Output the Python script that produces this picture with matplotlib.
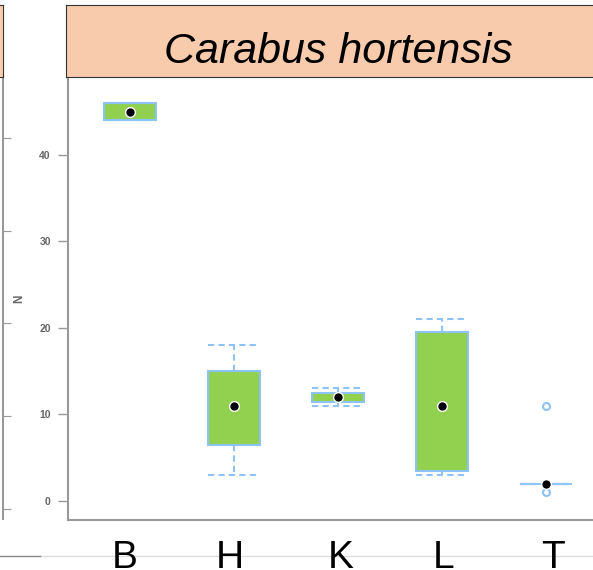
import matplotlib.pyplot as plt

plt.rcParams["font.family"] = ["Liberation Sans", "DejaVu Sans"]

sites = ["B", "H", "K", "L", "T"]
whis_lo = [44, 3, 11, 3, 2]
q1 = [44, 6.5, 11.4, 3.5, 2]
medians = [45, 11, 12, 11, 2]
q3 = [46, 15, 12.5, 19.5, 2]
whis_hi = [46, 18, 13, 21, 2]
outliers = [[], [], [], [], [11, 1]]
yticks = [0, 10, 20, 30, 40]

W, H = 593, 570
fig = plt.figure(figsize=(W / 100, H / 100), dpi=100)

box_blue = "#8ec3f5"
green = "#92d050"
grey = "#999999"


def fx(px):
    return px / W


def fy(py):
    return 1 - py / H


# partial neighbour panel on the far left
left = fig.add_axes([fx(-60), fy(519), fx(63), fy(77) - fy(519)])
left.set_xlim(0, 1)
left.set_ylim(-1.1, 46.6)
for s in ["left", "top", "bottom"]:
    left.spines[s].set_visible(False)
left.spines["right"].set_color(grey)
left.spines["right"].set_linewidth(1.5)
left.set_xticks([])
left.yaxis.tick_right()
left.set_yticks(yticks)
left.set_yticklabels([])
left.tick_params(axis="y", colors=grey, length=6, direction="out")
lstrip = fig.add_axes([fx(-60), fy(77), fx(63), fy(5) - fy(77)])
lstrip.set_facecolor("#f8cbad")
lstrip.set_xticks([])
lstrip.set_yticks([])
for s in lstrip.spines.values():
    s.set_color("#333333")

# main panel
ax = fig.add_axes([fx(67.5), fy(520), 1 - fx(67.5), fy(77) - fy(520)])
stats = []
for i, name in enumerate(sites):
    stats.append(dict(label=name, whislo=whis_lo[i], q1=q1[i], med=medians[i],
                      q3=q3[i], whishi=whis_hi[i], fliers=outliers[i]))

ax.bxp(stats, positions=range(1, 6), widths=0.5, capwidths=0.5,
       patch_artist=True, showfliers=True,
       boxprops=dict(facecolor=green, edgecolor=box_blue, linewidth=1.5),
       whiskerprops=dict(color=box_blue, linestyle=(0, (3, 2)), linewidth=1.5),
       capprops=dict(color=box_blue, linestyle=(0, (3, 2)), linewidth=1.5),
       medianprops=dict(linewidth=0),
       flierprops=dict(marker="o", markerfacecolor="none",
                       markeredgecolor=box_blue, markersize=5, markeredgewidth=1.5))
ax.plot(range(1, 6), medians, "o", color="black", markeredgecolor="white",
        markeredgewidth=1, markersize=7, zorder=5)

ax.set_xlim(1 - 62.5 / 104, 5 + 47 / 104)
ax.set_ylim(-2.2, 49)
ax.set_yticks(yticks)
ax.set_yticklabels([str(t) for t in yticks])
ax.tick_params(axis="y", colors=grey, labelcolor="#666666", labelsize=7.5,
               length=7, width=1, pad=5)
for lab in ax.get_yticklabels():
    lab.set_fontweight("bold")
ax.set_xticks([])
for s in ["top", "right"]:
    ax.spines[s].set_visible(False)
for s in ["left", "bottom"]:
    ax.spines[s].set_color(grey)
    ax.spines[s].set_linewidth(1.5)

label_x = [125, 230, 341, 444, 553]
for name, px in zip(sites, label_x):
    fig.text(fx(px), fy(568), name, ha="center", va="baseline",
             fontsize=28, color="black")

fig.text(fx(19), fy(299), "N", rotation=90, ha="center", va="center",
         fontsize=8.5, fontweight="bold", color="#666666")

# strip
strip = fig.add_axes([fx(66), fy(77), 1 - fx(66) + 0.01, fy(5) - fy(77)])
strip.set_facecolor("#f8cbad")
strip.set_xticks([])
strip.set_yticks([])
for s in strip.spines.values():
    s.set_color("#333333")
fig.text(fx(338), fy(63), "Carabus hortensis", ha="center", va="baseline",
         fontsize=31, style="italic", color="black")

# faint line near the bottom edge
fig.add_artist(plt.Line2D([fx(40), 1], [fy(556), fy(556)], color="#dddddd",
                          linewidth=1, zorder=0))
fig.add_artist(plt.Line2D([0, fx(40)], [fy(556), fy(556)], color="#888888",
                          linewidth=1, zorder=0))

fig.savefig("out.png", dpi=100)
